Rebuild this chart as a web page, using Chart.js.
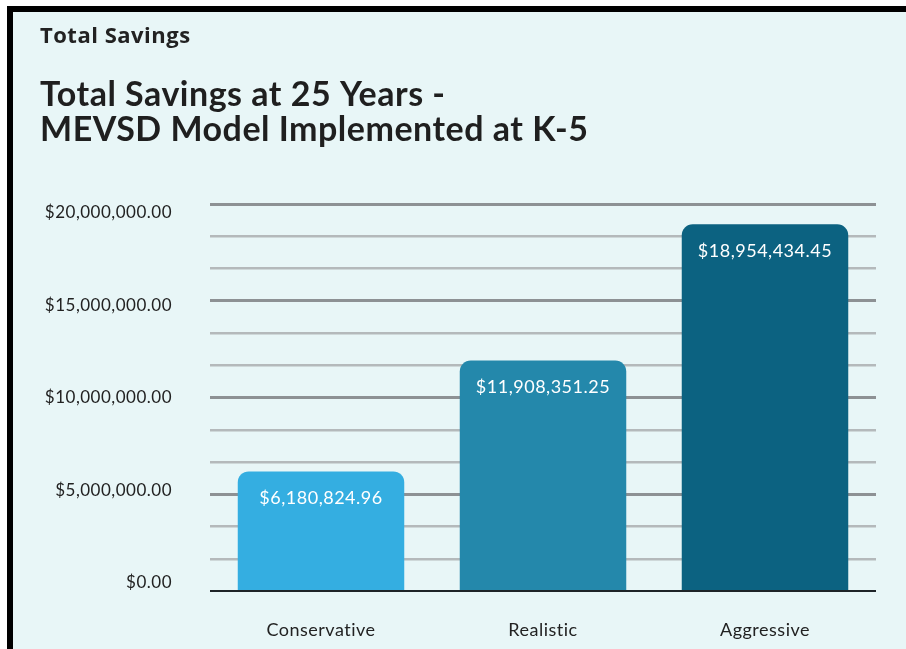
<!DOCTYPE html>
<html>
<head>
<meta charset="utf-8">
<script src="https://cdn.jsdelivr.net/npm/chart.js@4"></script>
<style>
  html, body { margin: 0; padding: 0; background: #ffffff; width: 906px; height: 649px; overflow: hidden; }
  #frame {
    position: absolute; left: 7px; top: 6px;
    width: 893px; height: 637px;
    border-top: 6px solid #000; border-left: 6px solid #000;
    background: #E8F6F7;
  }
  canvas { display: block; }
</style>
</head>
<body>
<div id="frame"><canvas id="c" width="893" height="637"></canvas></div>
<script>
const categories = ['Conservative', 'Realistic', 'Aggressive'];
const savings = [6180824.96, 11908351.25, 18954434.45];
const barColors = ['#34AEE1', '#2488AB', '#0C6281'];
const yTickValues = [0, 5000000, 10000000, 15000000, 20000000];
const yTickLabels = ['$0.00', '$5,000,000.00', '$10,000,000.00', '$15,000,000.00', '$20,000,000.00'];
const valueLabels = ['$6,180,824.96', '$11,908,351.25', '$18,954,434.45'];
const kicker = 'Total Savings';
const titleLines = ['Total Savings at 25 Years -', 'MEVSD Model Implemented at K-5'];
const yMax = 20000000;
const gridDivisions = 12;

const FONT = "Lato, 'Noto Sans', sans-serif";

const spacingPlugin = {
  id: 'spacing',
  beforeDraw(chart) {
    if ('letterSpacing' in chart.ctx) chart.ctx.letterSpacing = '0.5px';
  }
};

const barLabelPlugin = {
  id: 'barLabels',
  afterDatasetsDraw(chart) {
    const ctx = chart.ctx;
    const meta = chart.getDatasetMeta(0);
    ctx.save();
    ctx.font = "18px " + FONT;
    ctx.fillStyle = '#ffffff';
    ctx.textAlign = 'center';
    ctx.textBaseline = 'middle';
    meta.data.forEach((bar, i) => {
      ctx.fillText(valueLabels[i], bar.x, bar.y + 27);
    });
    ctx.restore();
  }
};

new Chart(document.getElementById('c'), {
  type: 'bar',
  data: {
    labels: categories,
    datasets: [{
      data: savings,
      yAxisID: 'y',
      backgroundColor: barColors,
      borderRadius: { topLeft: 11, topRight: 11, bottomLeft: 0, bottomRight: 0 },
      borderSkipped: 'start',
      categoryPercentage: 1.0,
      barPercentage: 0.75
    }]
  },
  options: {
    responsive: false,
    animation: false,
    layout: { padding: { left: 27, right: 30, top: 0, bottom: 0 } },
    plugins: {
      legend: { display: false },
      tooltip: { enabled: false },
      title: {
        display: true,
        text: kicker,
        align: 'start',
        color: '#222222',
        font: { family: "'Open Sans', Lato, sans-serif", size: 22, weight: 'bold', lineHeight: 24 / 22 },
        padding: { top: 12.5, bottom: 0 }
      },
      subtitle: {
        display: true,
        text: titleLines,
        align: 'start',
        color: '#1f1f1f',
        font: { family: FONT, size: 34, weight: 'bold', lineHeight: 35 / 34 },
        padding: { top: 29, bottom: 56.5 }
      }
    },
    scales: {
      x: {
        grid: { display: false },
        border: { display: false },
        ticks: {
          color: '#222222',
          font: { family: FONT, size: 18 },
          padding: 20
        },
        afterFit(scale) { scale.height = 58; }
      },
      yLabels: {
        position: 'left',
        min: -432400,
        max: 20487000,
        border: { display: false },
        grid: { display: false, drawTicks: false },
        ticks: {
          autoSkip: false,
          padding: 38,
          color: '#222222',
          font: { family: FONT, size: 17 },
          callback(value) {
            const i = yTickValues.indexOf(value);
            return i >= 0 ? yTickLabels[i] : '';
          }
        },
        afterBuildTicks(scale) {
          scale.ticks = yTickValues.map(v => ({ value: v }));
        },
        afterFit(scale) { scale.width = 170; }
      },
      y: {
        position: 'left',
        min: 0,
        max: yMax,
        border: { display: false },
        grid: {
          drawTicks: false,
          color(ctx) {
            const i = ctx.index;
            if (i === 0) return '#1e2428';
            return (i % 3 === 0) ? '#8d9194' : '#b4b9bb';
          },
          lineWidth(ctx) {
            const i = ctx.index;
            if (i === 0) return 2;
            return (i % 3 === 0) ? 3 : 2.5;
          }
        },
        ticks: { display: false },
        afterBuildTicks(scale) {
          const t = [];
          for (let i = 0; i <= gridDivisions; i++) t.push({ value: (i * yMax) / gridDivisions });
          scale.ticks = t;
        },
        afterFit(scale) { scale.width = 0; }
      }
    }
  },
  plugins: [spacingPlugin, barLabelPlugin]
});
</script>
</body>
</html>
